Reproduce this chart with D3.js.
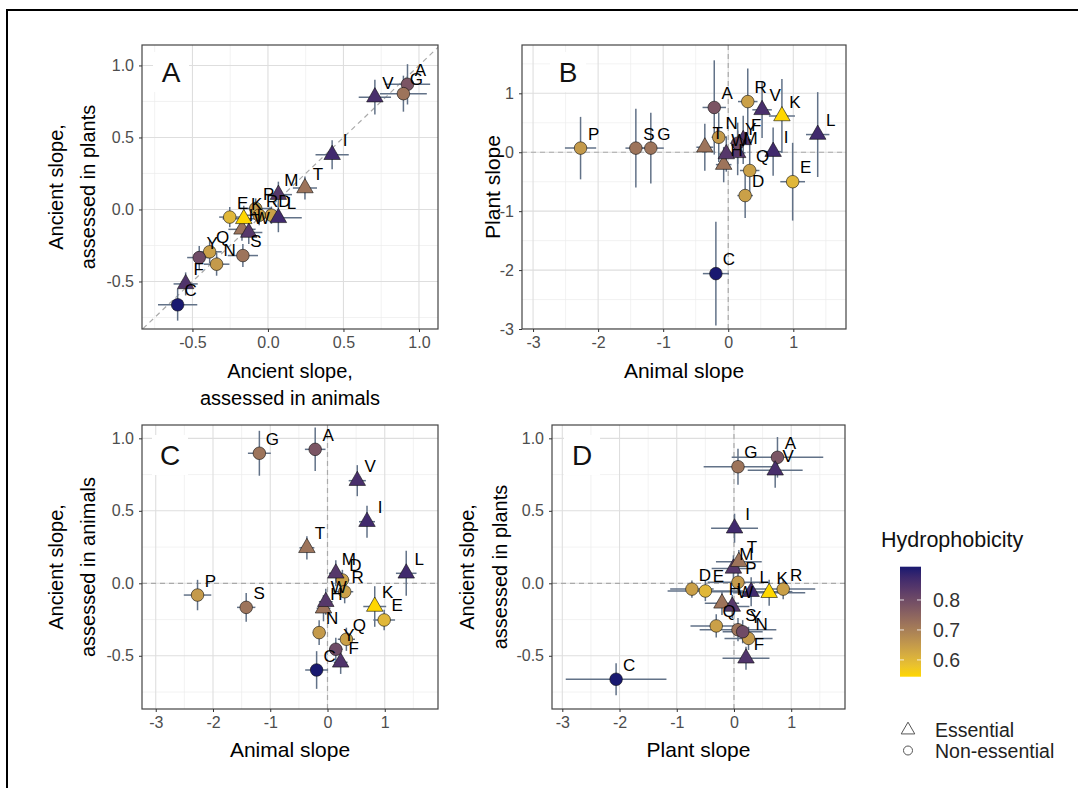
<!DOCTYPE html>
<html>
<head>
<meta charset="utf-8">
<script src="https://cdn.jsdelivr.net/npm/d3@7"></script>
<style>
  body { margin: 0; background: #fff; font-family: "Liberation Sans", Arial, Helvetica, sans-serif; }
</style>
</head>
<body>
<div id="fig"></div>
<script>
// amino acids, alphabetical
var aminoAcids = ["A","C","D","E","F","G","H","I","K","L","M","N","P","Q","R","S","T","V","W","Y"];
var essential  = [0,0,0,0,1,0,1,1,1,1,1,0,0,0,0,0,1,1,1,0];
var hydrophobicity = [0.78,0.911,0.64,0.60,0.85,0.72,0.72,0.87,0.544,0.87,0.84,0.65,0.65,0.64,0.64,0.72,0.72,0.86,0.84,0.80];

// ancient slope, assessed in animals / plants
var ancientAnimal   = [0.924,-0.598,0.023,-0.253,-0.545,0.897,-0.172,0.425,-0.16,0.069,0.069,-0.34,-0.081,-0.386,-0.058,-0.166,0.245,0.708,-0.127,-0.455];
var ancientAnimalSE = [0.15,0.13,0.07,0.07,0.08,0.155,0.09,0.11,0.14,0.155,0.09,0.085,0.105,0.08,0.08,0.1,0.08,0.107,0.09,0.08];
var ancientPlant    = [0.869,-0.662,-0.04,-0.053,-0.517,0.804,-0.138,0.38,-0.065,-0.058,0.103,-0.38,0.007,-0.294,-0.04,-0.32,0.149,0.78,-0.16,-0.334];
var ancientPlantSE  = [0.14,0.11,0.06,0.07,0.08,0.125,0.08,0.1,0.09,0.1,0.09,0.08,0.07,0.08,0.07,0.08,0.08,0.12,0.08,0.08];

// recent slopes
var animalSlope   = [-0.215,-0.19,0.26,0.99,0.23,-1.19,-0.07,0.69,0.825,1.375,0.145,-0.146,-2.27,0.33,0.30,-1.42,-0.36,0.52,-0.03,0.145];
var animalSlopeSE = [0.18,0.2,0.12,0.19,0.12,0.2,0.12,0.14,0.2,0.18,0.12,0.11,0.24,0.15,0.15,0.16,0.13,0.15,0.12,0.12];
var plantSlope    = [0.76,-2.06,-0.735,-0.50,0.21,0.07,-0.21,0.01,0.615,0.30,-0.01,0.254,0.07,-0.31,0.86,0.07,0.085,0.72,-0.03,0.152];
var plantSlopeSE  = [0.8,0.88,0.38,0.66,0.41,0.6,0.3,0.41,0.63,0.72,0.38,0.42,0.53,0.45,0.56,0.67,0.4,0.48,0.3,0.35];

var hydroTicks = [0.6, 0.7, 0.8];

var rows = aminoAcids.map(function(aa, i) {
  return {
    aa: aa, ess: essential[i], hyd: hydrophobicity[i],
    ancA: ancientAnimal[i], ancAse: ancientAnimalSE[i],
    ancP: ancientPlant[i], ancPse: ancientPlantSE[i],
    anim: animalSlope[i], animse: animalSlopeSE[i],
    plant: plantSlope[i], plantse: plantSlopeSE[i]
  };
});

var W = 1078, H = 788;
var svg = d3.select("#fig").append("svg").attr("width", W).attr("height", H);

// outer frame (left + top)
svg.append("path").attr("d", "M7,788 L7,10 L1078,10").attr("fill", "none").attr("stroke", "#000").attr("stroke-width", 2);

var color = d3.scaleLinear().domain([0.544, 0.911]).range(["#FFD700", "#191970"]).interpolate(d3.interpolateLab);

var fmt1 = function(d) { return d.toFixed(1).replace("\u2212", "-"); };
var fmt0 = function(d) { return String(d); };

var panels = [
  { letter: "A", xv: "ancA", xe: "ancAse", yv: "ancP", ye: "ancPse",
    left: 142, right: 438, top: 45, bottom: 329,
    xdom: [-0.834, 1.126], ydom: [-0.83, 1.142],
    xticks: [-0.5, 0, 0.5, 1], yticks: [-0.5, 0, 0.5, 1],
    xminor: [-0.75, -0.25, 0.25, 0.75], yminor: [-0.75, -0.25, 0.25, 0.75],
    xfmt: fmt1, yfmt: fmt1, diag: true,
    xtitle: ["Ancient slope,", "assessed in animals"], ytitle: ["Ancient slope,", "assessed in plants"],
    xtitleY: [371, 398], ytitleX: [56, 88], letterOff: [29, 27] },
  { letter: "B", xv: "anim", xe: "animse", yv: "plant", ye: "plantse",
    left: 522, right: 846, top: 45, bottom: 329,
    xdom: [-3.17, 1.81], ydom: [-3.0, 1.82],
    xticks: [-3, -2, -1, 0, 1], yticks: [-3, -2, -1, 0, 1],
    xminor: [-2.5, -1.5, -0.5, 0.5, 1.5], yminor: [-2.5, -1.5, -0.5, 0.5, 1.5],
    xfmt: fmt0, yfmt: fmt0, diag: false,
    xtitle: ["Animal slope"], ytitle: ["Plant slope"],
    xtitleY: [370], ytitleX: [492], letterOff: [46, 27] },
  { letter: "C", xv: "anim", xe: "animse", yv: "ancA", ye: "ancAse",
    left: 142, right: 438, top: 425, bottom: 709,
    xdom: [-3.24, 1.93], ydom: [-0.867, 1.092],
    xticks: [-3, -2, -1, 0, 1], yticks: [-0.5, 0, 0.5, 1],
    xminor: [-2.5, -1.5, -0.5, 0.5, 1.5], yminor: [-0.75, -0.25, 0.25, 0.75],
    xfmt: fmt0, yfmt: fmt1, diag: false,
    xtitle: ["Animal slope"], ytitle: ["Ancient slope,", "assessed in animals"],
    xtitleY: [749], ytitleX: [56, 88], letterOff: [28, 30] },
  { letter: "D", xv: "plant", xe: "plantse", yv: "ancP", ye: "ancPse",
    left: 552, right: 845, top: 425, bottom: 709,
    xdom: [-3.18, 1.94], ydom: [-0.867, 1.092],
    xticks: [-3, -2, -1, 0, 1], yticks: [-0.5, 0, 0.5, 1],
    xminor: [-2.5, -1.5, -0.5, 0.5, 1.5], yminor: [-0.75, -0.25, 0.25, 0.75],
    xfmt: fmt0, yfmt: fmt1, diag: false,
    xtitle: ["Plant slope"], ytitle: ["Ancient slope,", "assessed in plants"],
    xtitleY: [749], ytitleX: [467, 500], letterOff: [30, 30] }
];

var tri = d3.symbol().type(d3.symbolTriangle).size(118);
var errColor = "#627288";

panels.forEach(function(p, pi) {
  var x = d3.scaleLinear().domain(p.xdom).range([p.left, p.right]);
  var y = d3.scaleLinear().domain(p.ydom).range([p.bottom, p.top]);
  var g = svg.append("g");

  var clipId = "clip" + pi;
  svg.append("clipPath").attr("id", clipId).append("rect")
    .attr("x", p.left).attr("y", p.top).attr("width", p.right - p.left).attr("height", p.bottom - p.top);

  var plot = g.append("g").attr("clip-path", "url(#" + clipId + ")");

  // grid
  plot.selectAll(".vminor").data(p.xminor).enter().append("line")
    .attr("x1", d => x(d)).attr("x2", d => x(d)).attr("y1", p.top).attr("y2", p.bottom)
    .attr("stroke", "#ececec").attr("stroke-width", 0.7);
  plot.selectAll(".hminor").data(p.yminor).enter().append("line")
    .attr("y1", d => y(d)).attr("y2", d => y(d)).attr("x1", p.left).attr("x2", p.right)
    .attr("stroke", "#ececec").attr("stroke-width", 0.7);
  plot.selectAll(".vmajor").data(p.xticks).enter().append("line")
    .attr("x1", d => x(d)).attr("x2", d => x(d)).attr("y1", p.top).attr("y2", p.bottom)
    .attr("stroke", "#dedede").attr("stroke-width", 1.1);
  plot.selectAll(".hmajor").data(p.yticks).enter().append("line")
    .attr("y1", d => y(d)).attr("y2", d => y(d)).attr("x1", p.left).attr("x2", p.right)
    .attr("stroke", "#dedede").attr("stroke-width", 1.1);

  // reference lines
  if (p.diag) {
    plot.append("line")
      .attr("x1", x(-1)).attr("y1", y(-1)).attr("x2", x(1.3)).attr("y2", y(1.3))
      .attr("stroke", "#aaaaaa").attr("stroke-width", 1.2).attr("stroke-dasharray", "5,4");
  } else {
    plot.append("line").attr("x1", x(0)).attr("x2", x(0)).attr("y1", p.top).attr("y2", p.bottom)
      .attr("stroke", "#aaaaaa").attr("stroke-width", 1.2).attr("stroke-dasharray", "5,4");
    plot.append("line").attr("y1", y(0)).attr("y2", y(0)).attr("x1", p.left).attr("x2", p.right)
      .attr("stroke", "#aaaaaa").attr("stroke-width", 1.2).attr("stroke-dasharray", "5,4");
  }

  // error bars
  plot.selectAll(".ex").data(rows).enter().append("line")
    .attr("x1", d => x(d[p.xv] - d[p.xe])).attr("x2", d => x(d[p.xv] + d[p.xe]))
    .attr("y1", d => y(d[p.yv])).attr("y2", d => y(d[p.yv]))
    .attr("stroke", errColor).attr("stroke-width", 1.5);
  plot.selectAll(".ey").data(rows).enter().append("line")
    .attr("x1", d => x(d[p.xv])).attr("x2", d => x(d[p.xv]))
    .attr("y1", d => y(d[p.yv] - d[p.ye])).attr("y2", d => y(d[p.yv] + d[p.ye]))
    .attr("stroke", errColor).attr("stroke-width", 1.5);

  // points
  rows.forEach(function(d) {
    var cx = x(d[p.xv]), cy = y(d[p.yv]);
    if (d.ess) {
      plot.append("path").attr("d", tri).attr("transform", "translate(" + cx + "," + cy + ")")
        .attr("fill", color(d.hyd)).attr("stroke", "#111").attr("stroke-width", 0.6);
    } else {
      plot.append("circle").attr("cx", cx).attr("cy", cy).attr("r", 6.3)
        .attr("fill", color(d.hyd)).attr("stroke", "#111").attr("stroke-width", 0.6);
    }
  });

  // labels (repelled up-right)
  plot.selectAll(".lab").data(rows).enter().append("text")
    .attr("x", d => x(d[p.xv]) + 13).attr("y", d => y(d[p.yv]) - 14)
    .attr("text-anchor", "middle").attr("dominant-baseline", "central")
    .style("font-size", "17px").attr("fill", "#000")
    .text(d => d.aa);

  // panel letter with white box
  var lx = p.left + p.letterOff[0], ly = p.top + p.letterOff[1];
  plot.append("rect").attr("x", lx - 18).attr("y", ly - 20).attr("width", 36).attr("height", 40).attr("fill", "#fff");
  plot.append("text").attr("x", lx).attr("y", ly).attr("text-anchor", "middle").attr("dominant-baseline", "central")
    .style("font-size", "28px").attr("fill", "#111").text(p.letter);

  // border
  g.append("rect").attr("x", p.left).attr("y", p.top).attr("width", p.right - p.left).attr("height", p.bottom - p.top)
    .attr("fill", "none").attr("stroke", "#444").attr("stroke-width", 1.2);

  // axes
  var xa = g.append("g").attr("transform", "translate(0," + p.bottom + ")")
    .call(d3.axisBottom(x).tickValues(p.xticks).tickFormat(p.xfmt).tickSizeInner(3).tickSizeOuter(0).tickPadding(5));
  var ya = g.append("g").attr("transform", "translate(" + p.left + ",0)")
    .call(d3.axisLeft(y).tickValues(p.yticks).tickFormat(p.yfmt).tickSizeInner(3).tickSizeOuter(0).tickPadding(5));
  [xa, ya].forEach(function(a) {
    a.select(".domain").remove();
    a.selectAll(".tick line").attr("stroke", "#333");
    a.selectAll(".tick text").style("font-size", "16px").attr("fill", "#4d4d4d")
      .style("font-family", "'Liberation Sans', Arial, sans-serif");
  });

  // axis titles
  var cxm = (p.left + p.right) / 2, cym = (p.top + p.bottom) / 2;
  var tsize = p.xtitle.length > 1 ? "20px" : "21px";
  p.xtitle.forEach(function(t, k) {
    g.append("text").attr("x", cxm).attr("y", p.xtitleY[k]).attr("text-anchor", "middle")
      .attr("dominant-baseline", "central").style("font-size", tsize).attr("fill", "#000").text(t);
  });
  var ysize = p.ytitle.length > 1 ? "20px" : "21px";
  p.ytitle.forEach(function(t, k) {
    g.append("text").attr("transform", "translate(" + p.ytitleX[k] + "," + cym + ") rotate(-90)")
      .attr("text-anchor", "middle").attr("dominant-baseline", "central")
      .style("font-size", ysize).attr("fill", "#000").text(t);
  });
});

// legend: colourbar
var leg = svg.append("g");
leg.append("text").attr("x", 881).attr("y", 540).attr("dominant-baseline", "central")
  .style("font-size", "21.5px").attr("fill", "#111").text("Hydrophobicity");

var barTop = 566.7, barBot = 676.7, barX = 900, barW = 21;
var defs = svg.append("defs");
var grad = defs.append("linearGradient").attr("id", "hgrad").attr("x1", 0).attr("y1", 1).attr("x2", 0).attr("y2", 0);
d3.range(0, 1.0001, 0.1).forEach(function(t) {
  var v = 0.544 + t * (0.911 - 0.544);
  grad.append("stop").attr("offset", t).attr("stop-color", color(v));
});
leg.append("rect").attr("x", barX).attr("y", barTop).attr("width", barW).attr("height", barBot - barTop).attr("fill", "url(#hgrad)");
var hy = d3.scaleLinear().domain([0.544, 0.911]).range([barBot, barTop]);
hydroTicks.forEach(function(v) {
  leg.append("line").attr("x1", barX).attr("x2", barX + 4).attr("y1", hy(v)).attr("y2", hy(v)).attr("stroke", "#fff").attr("stroke-width", 0.8);
  leg.append("line").attr("x1", barX + barW - 4).attr("x2", barX + barW).attr("y1", hy(v)).attr("y2", hy(v)).attr("stroke", "#fff").attr("stroke-width", 0.8);
  leg.append("text").attr("x", 933).attr("y", hy(v)).attr("dominant-baseline", "central")
    .style("font-size", "19.5px").attr("fill", "#333").text(v.toFixed(1));
});

// legend: shapes
var shapeLegend = [{ lab: "Essential", ess: 1 }, { lab: "Non-essential", ess: 0 }];
var triSmall = d3.symbol().type(d3.symbolTriangle).size(80);
shapeLegend.forEach(function(s, k) {
  var cy = 730 + k * 20.5;
  if (s.ess) {
    leg.append("path").attr("d", triSmall).attr("transform", "translate(908," + cy + ")")
      .attr("fill", "none").attr("stroke", "#555").attr("stroke-width", 1);
  } else {
    leg.append("circle").attr("cx", 908).attr("cy", cy).attr("r", 4.5)
      .attr("fill", "none").attr("stroke", "#555").attr("stroke-width", 1);
  }
  leg.append("text").attr("x", 935).attr("y", cy).attr("dominant-baseline", "central")
    .style("font-size", "19.5px").attr("fill", "#222").text(s.lab);
});
</script>
</body>
</html>
